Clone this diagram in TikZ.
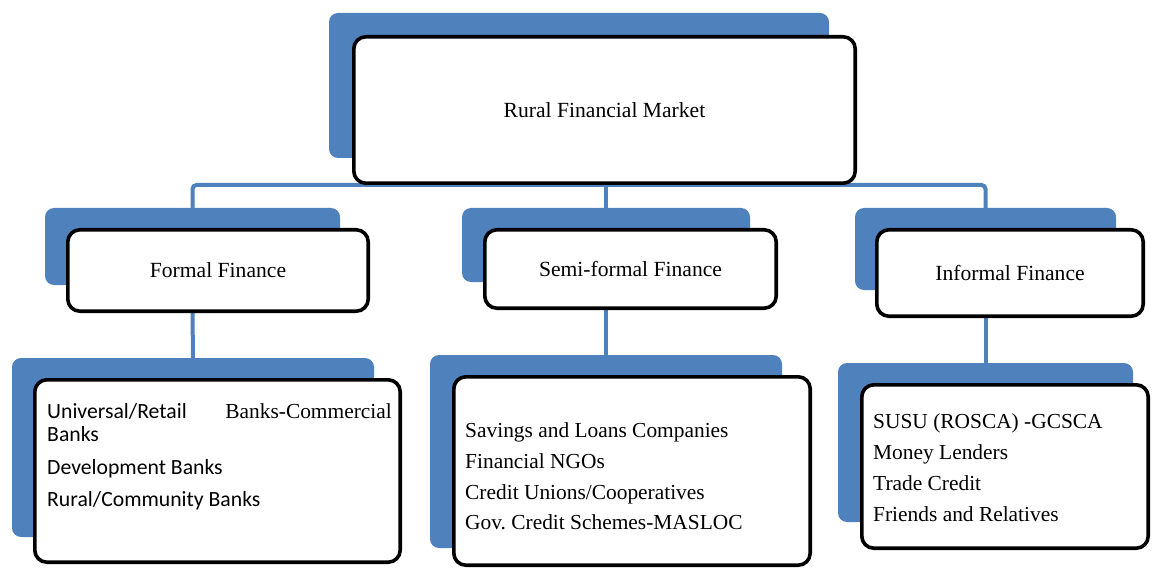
\documentclass[tikz,border=0pt]{standalone}
\usepackage{fontspec}
\setmainfont{Liberation Serif}
\newfontfamily\calibri{Carlito}
\usetikzlibrary{backgrounds}
\definecolor{officeblue}{HTML}{4F81BD}

\begin{document}
\begin{tikzpicture}[x=1pt,y=-1pt,
  shadow/.style={fill=officeblue, rounded corners=9, inner sep=0pt, draw=none},
  card/.style={draw=black, line width=3.6pt, fill=white, rounded corners=12, inner sep=0pt},
  conn/.style={draw=officeblue, line width=4pt, rounded corners=4},
  head/.style={font=\fontsize{21.6}{26}\selectfont},
  item/.style={font=\fontsize{21.4}{26}\selectfont, inner sep=0pt, anchor=base west},
  sitem/.style={font=\calibri\fontsize{21.7}{26}\selectfont, inner sep=0pt, anchor=base west}]

\useasboundingbox (0,0) rectangle (1153,569);

% top level
\node[shadow, minimum width=500, minimum height=145] (rootB) at (579,85.5) {};
\node[card, head, minimum width=501.4, minimum height=146.4] (root) at (604.5,110) {Rural Financial Market};

% second level
\node[shadow, minimum width=295, minimum height=77] (formB) at (192.5,246.5) {};
\node[card, head, minimum width=300.4, minimum height=81.4] (form) at (218,270.5) {Formal Finance};

\node[shadow, minimum width=288, minimum height=74] (semiB) at (606,245) {};
\node[card, head, minimum width=291.4, minimum height=78.4] (semi) at (630.5,269) {Semi-formal Finance};

\node[shadow, minimum width=261, minimum height=82] (infB) at (985.5,249) {};
\node[card, head, minimum width=266.4, minimum height=86.4] (inf) at (1010,273) {Informal Finance};

% third level
\node[shadow, minimum width=362, minimum height=179] (formLB) at (193,447.5) {};
\node[card, minimum width=365.4, minimum height=182.4] (formL) at (217.5,471) {};

\node[shadow, minimum width=352, minimum height=193] (semiLB) at (606,451.5) {};
\node[card, minimum width=356.4, minimum height=188.4] (semiL) at (632,471) {};

\node[shadow, minimum width=295, minimum height=159] (infLB) at (985.5,442.5) {};
\node[card, minimum width=286.4, minimum height=163.4] (infL) at (1005,466.5) {};

% list entries: formal
\node[sitem] (f1) at (47,418) {Universal/Retail};
\node[item, anchor=base east] (f1b) at (392,418) {Banks-Commercial};
\node[sitem] (f2) at (47,441) {Banks};
\node[sitem] (f3) at (47,474) {Development Banks};
\node[sitem] (f4) at (47,506) {Rural/Community Banks};

% list entries: semi-formal
\node[item] (s1) at (465,437) {Savings and Loans Companies};
\node[item] (s2) at (465,468) {Financial NGOs};
\node[item] (s3) at (465,499) {Credit Unions/Cooperatives};
\node[item] (s4) at (465,529) {Gov.\ Credit Schemes-MASLOC};

% list entries: informal
\node[item] (i1) at (873,428) {SUSU (ROSCA) -GCSCA};
\node[item] (i2) at (873,459) {Money Lenders};
\node[item] (i3) at (873,490) {Trade Credit};
\node[item] (i4) at (873,521) {Friends and Relatives};

% connectors behind the boxes
\coordinate (bar) at (0,185);
\begin{scope}[on background layer]
  \draw[conn] (formB.north) -- (formB.north |- bar) -- (infB.north |- bar) -- (infB.north);
  \draw[conn] (root.south -| semiB.north) -- (semiB.north);
  \draw[conn] (formB.north |- form.south) -- (formLB.north);
  \draw[conn] (semiB.north |- semi.south) -- (semiLB.north);
  \draw[conn] (infB.north |- inf.south) -- (infLB.north);
\end{scope}
\end{tikzpicture}
\end{document}
